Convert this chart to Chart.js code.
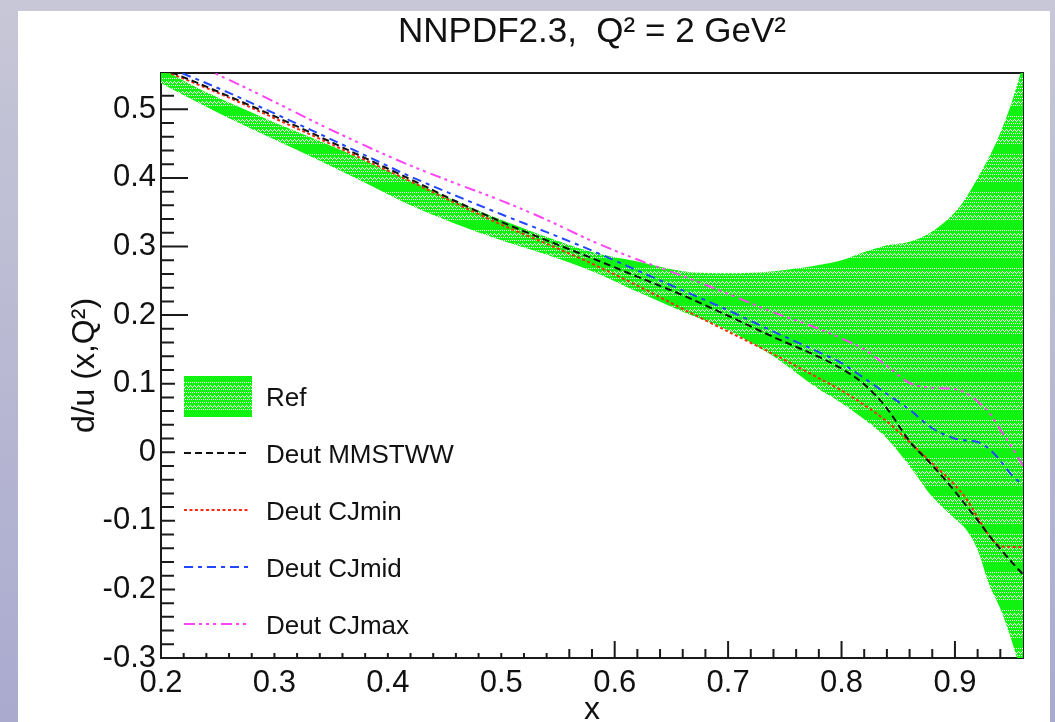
<!DOCTYPE html>
<html>
<head>
<meta charset="utf-8">
<script src="https://cdn.jsdelivr.net/npm/chart.js@4.4.1/dist/chart.umd.min.js"></script>
<style>
  html, body { margin: 0; padding: 0; background: #b8b8d2; }
  #wrap { width: 1055px; height: 722px; }
</style>
</head>
<body>
<div id="wrap"><canvas id="chart" width="1055" height="722"></canvas></div>
<script>
// x grid shared by the reference band and the four deuteron curves
const xs = [0.20, 0.23, 0.26, 0.30, 0.34, 0.38, 0.42, 0.46, 0.50, 0.54, 0.58, 0.62, 0.66, 0.70,
            0.74, 0.78, 0.80, 0.82, 0.84, 0.86, 0.88, 0.90, 0.91, 0.92, 0.93, 0.94, 0.95, 0.96];

// NNPDF2.3 reference band (upper / lower edge)
const refUpper = [0.560, 0.533, 0.510, 0.481, 0.454, 0.425, 0.396, 0.366, 0.339, 0.314, 0.292, 0.278, 0.264, 0.261,
                  0.264, 0.273, 0.280, 0.292, 0.302, 0.307, 0.322, 0.350, 0.372, 0.400, 0.430, 0.466, 0.510, 0.565];
const refLower = [0.538, 0.512, 0.487, 0.456, 0.425, 0.393, 0.360, 0.333, 0.309, 0.288, 0.264, 0.234, 0.205, 0.178,
                  0.140, 0.092, 0.072, 0.048, 0.020, -0.020, -0.065, -0.097, -0.113, -0.142, -0.192, -0.228, -0.275, -0.330];

// reweighted d/u with deuteron corrections
const deutMMSTWW = [0.560, 0.540, 0.519, 0.490, 0.460, 0.429, 0.398, 0.366, 0.336, 0.309, 0.283, 0.256, 0.229, 0.199,
                    0.168, 0.139, 0.122, 0.099, 0.064, 0.016, -0.019, -0.057, -0.078, -0.099, -0.121, -0.141, -0.160, -0.178];
const deutCJmin = [0.558, 0.538, 0.517, 0.487, 0.457, 0.426, 0.395, 0.363, 0.332, 0.304, 0.275, 0.243, 0.209, 0.176,
                   0.143, 0.108, 0.090, 0.069, 0.045, 0.015, -0.016, -0.048, -0.068, -0.095, -0.121, -0.137, -0.138, -0.138];
const deutCJmid = [0.565, 0.545, 0.524, 0.494, 0.464, 0.433, 0.402, 0.374, 0.347, 0.321, 0.294, 0.265, 0.236, 0.207,
                   0.176, 0.146, 0.130, 0.108, 0.085, 0.062, 0.035, 0.020, 0.017, 0.015, 0.005, -0.012, -0.033, -0.048];
const deutCJmax = [0.585, 0.565, 0.543, 0.511, 0.478, 0.447, 0.418, 0.392, 0.367, 0.339, 0.308, 0.281, 0.257, 0.231,
                   0.204, 0.180, 0.166, 0.150, 0.126, 0.101, 0.094, 0.092, 0.086, 0.074, 0.058, 0.033, 0.008, -0.020];

const xTicks = [0.2, 0.3, 0.4, 0.5, 0.6, 0.7, 0.8, 0.9];
const yTicks = [-0.3, -0.2, -0.1, 0, 0.1, 0.2, 0.3, 0.4, 0.5];

const FONT = "'Liberation Sans', Arial, Helvetica, sans-serif";
Chart.defaults.font.family = FONT;
Chart.defaults.color = '#111';

function points(ys) {
  return xs.map((x, i) => ({ x: x, y: ys[i] }));
}

// green fill with rows of little white squiggles, like the ROOT pattern
function makeHatch() {
  const c = document.createElement('canvas');
  c.width = 8; c.height = 38;
  const g = c.getContext('2d');
  g.fillStyle = '#10f210';
  g.fillRect(0, 0, 8, 38);
  g.fillStyle = '#ffffff';
  const wave = [2, 1, 0, 1, 2, 1, 0, 1];
  [2, 12, 22].forEach(base => {
    for (let i = 0; i < 8; i++) {
      if (i % 2 === 0) g.fillRect(i, base, 1, 1);
      g.fillRect(i, base + 3 + wave[i], 1, 1);
      if (i % 2 === 1) g.fillRect(i, base + 7, 1, 1);
    }
  });
  return g.createPattern(c, 'repeat');
}
const hatch = makeHatch();

// slide background and white panel
const slide = {
  id: 'slide',
  beforeDraw(chart) {
    const ctx = chart.ctx;
    const g = ctx.createLinearGradient(0, 0, 0, chart.height);
    g.addColorStop(0, '#c7c7d7');
    g.addColorStop(1, '#aaaacf');
    ctx.save();
    ctx.fillStyle = g;
    ctx.fillRect(0, 0, chart.width, chart.height);
    ctx.fillStyle = '#ffffff';
    ctx.fillRect(18, 11, 1032, chart.height - 11);
    ctx.restore();
  }
};

// frame with inward ticks
const frame = {
  id: 'frame',
  beforeDatasetsDraw(chart) {
    const { ctx, chartArea: a, scales } = chart;
    ctx.save();
    ctx.strokeStyle = '#1a1a1a';
    ctx.lineWidth = 2;
    ctx.strokeRect(a.left, a.top, a.right - a.left, a.bottom - a.top);
    ctx.beginPath();
    for (let i = 0; ; i++) {
      const v = 0.2 + i * 0.02;
      if (v > 0.9601) break;
      const px = scales.x.getPixelForValue(v);
      ctx.moveTo(px, a.bottom);
      ctx.lineTo(px, a.bottom - (i % 5 === 0 ? 17 : 9));
    }
    for (let i = 0; ; i++) {
      const v = -0.3 + i * 0.02;
      if (v > 0.553) break;
      const py = scales.y.getPixelForValue(v);
      ctx.moveTo(a.left, py);
      ctx.lineTo(a.left + (i % 5 === 0 ? 27 : 13), py);
    }
    ctx.stroke();
    ctx.restore();
  }
};

// TLegend-style box in the lower left
const rootLegend = {
  id: 'rootLegend',
  afterDatasetsDraw(chart) {
    const ctx = chart.ctx;
    ctx.save();
    ctx.fillStyle = '#ffffff';
    ctx.fillRect(175, 320, 380, 333);
    const items = chart.data.datasets.filter(d => d.label);
    items.forEach((d, i) => {
      const cy = 396 + i * 57;
      if (d.fill) {
        ctx.fillStyle = d.backgroundColor;
        ctx.fillRect(184, cy - 20, 68, 41);
      } else {
        ctx.strokeStyle = d.borderColor;
        ctx.lineWidth = d.borderWidth;
        ctx.setLineDash(d.borderDash);
        ctx.beginPath();
        ctx.moveTo(184, cy);
        ctx.lineTo(250, cy);
        ctx.stroke();
        ctx.setLineDash([]);
      }
      ctx.fillStyle = '#111';
      ctx.font = '26px ' + FONT;
      ctx.textBaseline = 'alphabetic';
      ctx.fillText(d.label, 266, cy + 10);
    });
    ctx.restore();
  }
};

function curve(label, ys, color, dash) {
  return {
    label: label,
    data: points(ys),
    borderColor: color,
    borderWidth: 2,
    borderDash: dash,
    pointRadius: 0,
    fill: false,
    clip: 0,
    order: 1
  };
}

new Chart(document.getElementById('chart'), {
  type: 'line',
  data: {
    datasets: [
      {
        label: 'Ref',
        data: points(refUpper),
        borderWidth: 0,
        borderColor: 'rgba(0,0,0,0)',
        backgroundColor: hatch,
        pointRadius: 0,
        fill: '+1',
        clip: 0,
        order: 10
      },
      {
        data: points(refLower),
        borderWidth: 0,
        borderColor: 'rgba(0,0,0,0)',
        pointRadius: 0,
        fill: false,
        clip: 0,
        order: 11
      },
      curve('Deut MMSTWW', deutMMSTWW, '#111111', [7, 4]),
      curve('Deut CJmin', deutCJmin, '#ff2a10', [3, 2.5]),
      curve('Deut CJmid', deutCJmid, '#2247ff', [9, 5, 4, 5]),
      curve('Deut CJmax', deutCJmax, '#ff44f4', [11, 4, 3, 4, 3, 4, 3, 5])
    ]
  },
  options: {
    responsive: false,
    animation: false,
    cubicInterpolationMode: 'monotone',
    layout: { padding: { left: 0, top: 0, right: 32, bottom: 0 } },
    plugins: {
      legend: { display: false },
      tooltip: { enabled: false },
      title: {
        display: true,
        fullSize: false,
        text: 'NNPDF2.3,  Q² = 2 GeV²',
        color: '#111',
        font: { size: 35, weight: 'normal' },
        padding: { top: 11, bottom: 20 }
      }
    },
    scales: {
      x: {
        type: 'linear',
        min: 0.2,
        max: 0.96,
        afterBuildTicks: s => { s.ticks = xTicks.map(v => ({ value: v })); },
        afterFit: s => { s.height = 64; },
        grid: { display: false, drawTicks: false },
        border: { display: false },
        ticks: {
          padding: 7,
          autoSkip: false,
          maxRotation: 0,
          color: '#111',
          font: { size: 31 },
          callback: v => String(+v.toFixed(1))
        },
        title: {
          display: true,
          text: 'x',
          color: '#111',
          font: { size: 32 },
          padding: { top: 0, bottom: -7 }
        }
      },
      y: {
        min: -0.3,
        max: 0.553,
        afterBuildTicks: s => { s.ticks = yTicks.map(v => ({ value: v })); },
        afterFit: s => { s.width = 161; },
        grid: { display: false, drawTicks: false },
        border: { display: false },
        ticks: {
          padding: 5,
          color: '#111',
          font: { size: 31 },
          callback: v => String(+v.toFixed(1))
        },
        title: {
          display: true,
          text: 'd/u (x,Q²)',
          color: '#111',
          font: { size: 32 },
          padding: { top: 66, bottom: 0 }
        }
      }
    }
  },
  plugins: [slide, frame, rootLegend]
});
</script>
</body>
</html>
